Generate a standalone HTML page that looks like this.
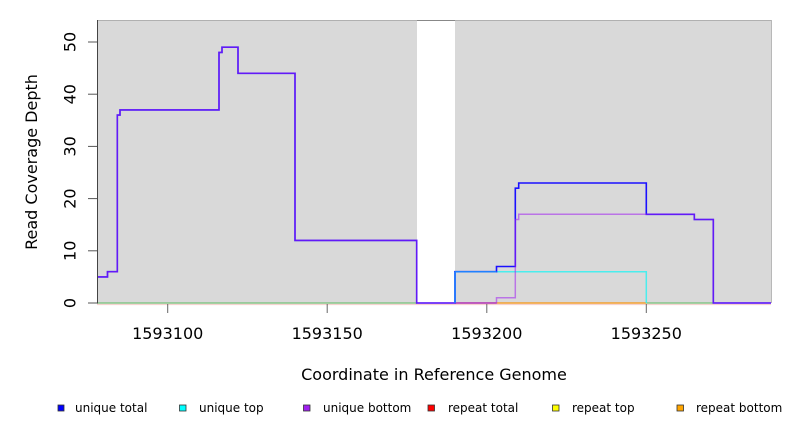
<!DOCTYPE html>
<html>
<head>
<meta charset="utf-8">
<style>
  html, body { margin:0; padding:0; background:#ffffff; }
  svg { display:block; }
  text { font-family: "DejaVu Sans", "Liberation Sans", sans-serif; fill:#000; }
</style>
</head>
<body>
<svg width="792" height="432" viewBox="0 0 792 432" xmlns="http://www.w3.org/2000/svg">
  <!-- plot background -->
  <rect x="97" y="20" width="320" height="283" fill="#d9d9d9"/>
  <rect x="455" y="20" width="316" height="283" fill="#d9d9d9"/>
  <!-- top border -->
  <line x1="97" y1="20.5" x2="417" y2="20.5" stroke="#b0b0b0" stroke-width="1"/>
  <line x1="417" y1="20.5" x2="455" y2="20.5" stroke="#888888" stroke-width="1"/>
  <line x1="455" y1="20.5" x2="771" y2="20.5" stroke="#b0b0b0" stroke-width="1"/>
  <!-- right border -->
  <line x1="771.5" y1="20" x2="771.5" y2="303" stroke="#b8b8b8" stroke-width="1"/>

  <!-- baseline colored segments (repeat series at zero) -->
  <line x1="97" y1="304.5" x2="771" y2="304.5" stroke="#f6d2d0" stroke-width="1.2"/>
  <line x1="97" y1="303" x2="417" y2="303" stroke="#86c488" stroke-width="1.5"/>
  <line x1="455" y1="303" x2="496.5" y2="303" stroke="#c85a78" stroke-width="1.5"/>
  <line x1="496.5" y1="303" x2="646.3" y2="303" stroke="#f2a030" stroke-width="1.5"/>
  <line x1="646.3" y1="303" x2="713.3" y2="303" stroke="#86c488" stroke-width="1.5"/>

  <!-- unique top (cyan) -->
  <polyline fill="none" stroke="#30f0f0" stroke-width="1.5" stroke-opacity="0.85"
    points="455,303 455,271.7 646.3,271.7 646.3,303"/>

  <!-- unique total (blue) -->
  <polyline fill="none" stroke="#1a10ff" stroke-width="1.6" stroke-linejoin="miter"
    points="97,276.9 107.5,276.9 107.5,271.7 117.3,271.7 117.3,115.1 120,115.1 120,109.9 219,109.9 219,52.4 222,52.4 222,47.2 238,47.2 238,73.3 295,73.3 295,240.4 416.7,240.4 416.7,303 455,303 455,271.7 496.5,271.7 496.5,266.5 515.3,266.5 515.3,188.2 518.7,188.2 518.7,183 646.3,183 646.3,214.3 694.3,214.3 694.3,219.5 713.3,219.5 713.3,303 771,303"/>

  <!-- unique bottom (purple) -->
  <polyline fill="none" stroke="#a020f0" stroke-width="1.5" stroke-opacity="0.55" stroke-linejoin="miter"
    points="97,276.9 107.5,276.9 107.5,271.7 117.3,271.7 117.3,115.1 120,115.1 120,109.9 219,109.9 219,52.4 222,52.4 222,47.2 238,47.2 238,73.3 295,73.3 295,240.4 416.7,240.4 416.7,303 455,303 496.5,303 496.5,297.8 515.3,297.8 515.3,219.5 518.7,219.5 518.7,214.3 694.3,214.3 694.3,219.5 713.3,219.5 713.3,303 771,303"/>

  <!-- cyan overlap tint on shared segment -->
  <line x1="455" y1="271.7" x2="496.5" y2="271.7" stroke="#2080ff" stroke-width="1.5"/>
  <line x1="455" y1="271.7" x2="455" y2="303" stroke="#2080ff" stroke-width="1.5"/>

  <!-- left axis -->
  <line x1="97.5" y1="20" x2="97.5" y2="303.5" stroke="#444" stroke-width="1"/>
  <g stroke="#555" stroke-width="1">
    <line x1="88" y1="42" x2="97" y2="42"/>
    <line x1="88" y1="94.2" x2="97" y2="94.2"/>
    <line x1="88" y1="146.4" x2="97" y2="146.4"/>
    <line x1="88" y1="198.6" x2="97" y2="198.6"/>
    <line x1="88" y1="250.8" x2="97" y2="250.8"/>
    <line x1="88" y1="303" x2="97" y2="303"/>
  </g>
  <g font-size="16" text-anchor="middle">
    <text transform="translate(75.5,42) rotate(-90)">50</text>
    <text transform="translate(75.5,94.2) rotate(-90)">40</text>
    <text transform="translate(75.5,146.4) rotate(-90)">30</text>
    <text transform="translate(75.5,198.6) rotate(-90)">20</text>
    <text transform="translate(75.5,250.8) rotate(-90)">10</text>
    <text transform="translate(75.5,303) rotate(-90)">0</text>
  </g>
  <text font-size="16" text-anchor="middle" transform="translate(37,162) rotate(-90)">Read Coverage Depth</text>

  <!-- x ticks -->
  <g stroke="#666" stroke-width="1">
    <line x1="167.7" y1="304" x2="167.7" y2="313"/>
    <line x1="327.2" y1="304" x2="327.2" y2="313"/>
    <line x1="486.8" y1="304" x2="486.8" y2="313"/>
    <line x1="646.3" y1="304" x2="646.3" y2="313"/>
  </g>
  <g font-size="16" text-anchor="middle">
    <text x="167.7" y="339">1593100</text>
    <text x="327.2" y="339">1593150</text>
    <text x="486.8" y="339">1593200</text>
    <text x="646.3" y="339">1593250</text>
  </g>
  <text x="434" y="380" font-size="16" text-anchor="middle">Coordinate in Reference Genome</text>

  <!-- legend -->
  <g stroke="#333" stroke-width="0.8">
    <rect x="58" y="405" width="6" height="6" fill="#0000ff"/>
    <rect x="179.5" y="405" width="6.5" height="6" fill="#00ffff"/>
    <rect x="303.5" y="405" width="6.5" height="6" fill="#a020f0"/>
    <rect x="428" y="405" width="6.5" height="6" fill="#ff0000"/>
    <rect x="552.5" y="405" width="6.5" height="6" fill="#ffff00"/>
    <rect x="677" y="405" width="6.5" height="6" fill="#ffa500"/>
  </g>
  <g font-size="12">
    <text x="75" y="412">unique total</text>
    <text x="199" y="412">unique top</text>
    <text x="323" y="412">unique bottom</text>
    <text x="448" y="412">repeat total</text>
    <text x="572" y="412">repeat top</text>
    <text x="696" y="412">repeat bottom</text>
  </g>
</svg>
</body>
</html>
